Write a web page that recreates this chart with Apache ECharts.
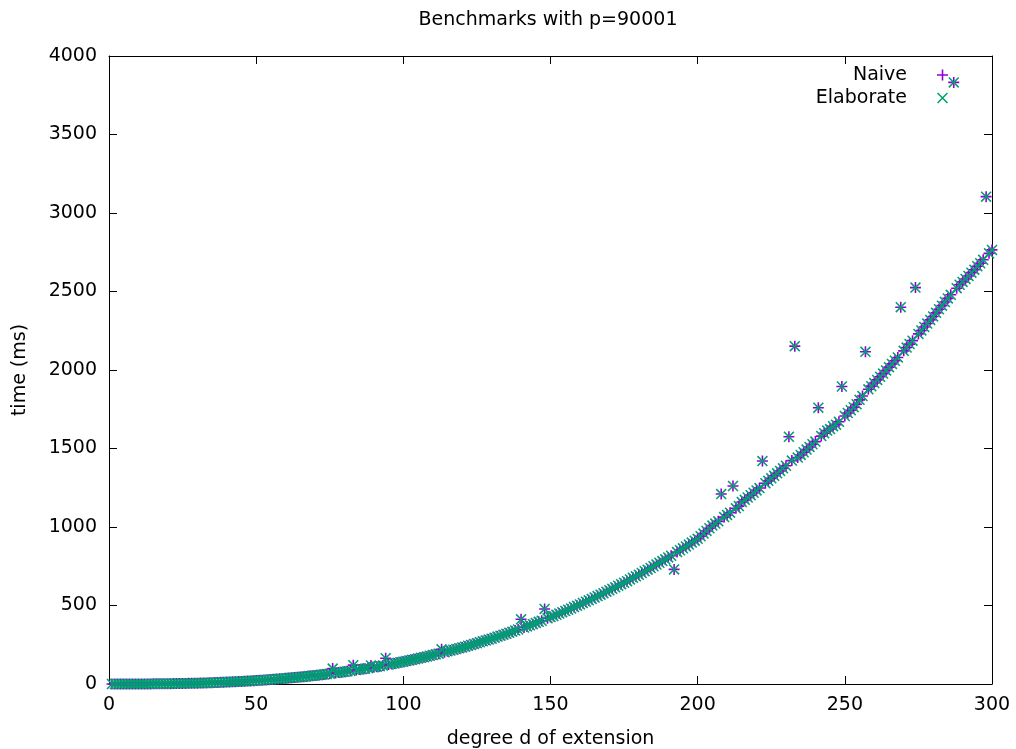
<!DOCTYPE html>
<html>
<head>
<meta charset="utf-8">
<script src="https://cdn.jsdelivr.net/npm/echarts@6/dist/echarts.min.js"></script>
<style>
  html, body { margin: 0; padding: 0; background: #fff; }
  #main { width: 1016px; height: 749px; }
</style>
</head>
<body>
<div id="main"></div>
<script>
// degree d = 1..300, one run per degree
const degrees = Array.from({ length: 300 }, (_, i) => i + 1);

// time (ms)
const naiveTimes = [
  0, 0, 0.01, 0.02, 0.04, 0.07, 0.11, 0.16, 0.21, 0.28,
  0.37, 0.47, 0.58, 0.71, 0.85, 1.01, 1.19, 1.39, 1.61, 1.85,
  2.11, 2.39, 2.69, 3.02, 3.37, 3.75, 4.15, 4.58, 5.04, 5.52,
  6.0, 6.6, 7.1, 7.7, 8.4, 9.0, 9.7, 10.5, 11.2, 12.0,
  12.8, 13.7, 14.6, 15.5, 16.5, 17.5, 18.6, 19.6, 20.8, 21.9,
  23.1, 24.4, 25.6, 27.0, 28.3, 29.7, 31.2, 32.7, 34.2, 35.9,
  37.5, 39.2, 41.0, 42.7, 44.6, 46.4, 48.4, 50.3, 52.4, 54.4,
  56.5, 58.7, 60.9, 63.2, 65.5, 98, 70.4, 72.9, 75.4, 78.0,
  80.7, 83.4, 120, 89.0, 91.9, 94.8, 97.8, 100.9, 118, 107.2,
  110.5, 113.8, 117.1, 164, 124.1, 127.6, 131.2, 134.9, 138.7, 142.4,
  146, 150, 154, 158, 162, 167, 171, 175, 180, 184,
  189, 193, 221, 203, 208, 213, 218, 223, 228, 233,
  238, 244, 249, 255, 260, 266, 272, 277, 283, 289,
  295, 302, 308, 314, 320, 327, 333, 340, 347, 412,
  360, 367, 374, 381, 389, 396, 403, 478, 418, 426,
  433, 441, 449, 457, 465, 473, 481, 490, 498, 507,
  516, 524, 533, 542, 551, 560, 569, 578, 588, 597,
  606, 616, 626, 636, 645, 655, 666, 676, 686, 696,
  707, 718, 728, 739, 750, 761, 772, 783, 794, 806,
  817, 730, 840, 852, 864, 876, 888, 901, 913, 925,
  941, 958, 975, 992, 1009, 1022, 1036, 1210, 1063, 1077,
  1091, 1261, 1119, 1133, 1159, 1173, 1188, 1203, 1218, 1233,
  1248, 1420, 1279, 1294, 1310, 1326, 1342, 1357, 1374, 1390,
  1575, 1423, 2152, 1442, 1459, 1476, 1493, 1510, 1527, 1544,
  1760, 1579, 1597, 1614, 1624, 1642, 1652, 1670, 1895, 1707,
  1726, 1744, 1763, 1782, 1810, 1834, 2116, 1877, 1897, 1917,
  1937, 1957, 1977, 1997, 2018, 2039, 2059, 2080, 2400, 2122,
  2143, 2165, 2187, 2525, 2230, 2252, 2274, 2296, 2319, 2341,
  2364, 2387, 2410, 2433, 2456, 2479, 3832, 2521, 2543, 2561,
  2580, 2599, 2620, 2639, 2661, 2680, 2702, 3104, 2743, 2765
];

// the elaborate method lands on the same times as far as the plot shows
const elaborateTimes = [
  0, 0, 0.01, 0.02, 0.04, 0.07, 0.11, 0.16, 0.21, 0.28,
  0.37, 0.47, 0.58, 0.71, 0.85, 1.01, 1.19, 1.39, 1.61, 1.85,
  2.11, 2.39, 2.69, 3.02, 3.37, 3.75, 4.15, 4.58, 5.04, 5.52,
  6.0, 6.6, 7.1, 7.7, 8.4, 9.0, 9.7, 10.5, 11.2, 12.0,
  12.8, 13.7, 14.6, 15.5, 16.5, 17.5, 18.6, 19.6, 20.8, 21.9,
  23.1, 24.4, 25.6, 27.0, 28.3, 29.7, 31.2, 32.7, 34.2, 35.9,
  37.5, 39.2, 41.0, 42.7, 44.6, 46.4, 48.4, 50.3, 52.4, 54.4,
  56.5, 58.7, 60.9, 63.2, 65.5, 98, 70.4, 72.9, 75.4, 78.0,
  80.7, 83.4, 120, 89.0, 91.9, 94.8, 97.8, 100.9, 118, 107.2,
  110.5, 113.8, 117.1, 164, 124.1, 127.6, 131.2, 134.9, 138.7, 142.4,
  146, 150, 154, 158, 162, 167, 171, 175, 180, 184,
  189, 193, 221, 203, 208, 213, 218, 223, 228, 233,
  238, 244, 249, 255, 260, 266, 272, 277, 283, 289,
  295, 302, 308, 314, 320, 327, 333, 340, 347, 412,
  360, 367, 374, 381, 389, 396, 403, 478, 418, 426,
  433, 441, 449, 457, 465, 473, 481, 490, 498, 507,
  516, 524, 533, 542, 551, 560, 569, 578, 588, 597,
  606, 616, 626, 636, 645, 655, 666, 676, 686, 696,
  707, 718, 728, 739, 750, 761, 772, 783, 794, 806,
  817, 730, 840, 852, 864, 876, 888, 901, 913, 925,
  941, 958, 975, 992, 1009, 1022, 1036, 1210, 1063, 1077,
  1091, 1261, 1119, 1133, 1159, 1173, 1188, 1203, 1218, 1233,
  1248, 1420, 1279, 1294, 1310, 1326, 1342, 1357, 1374, 1390,
  1575, 1423, 2152, 1442, 1459, 1476, 1493, 1510, 1527, 1544,
  1760, 1579, 1597, 1614, 1624, 1642, 1652, 1670, 1895, 1707,
  1726, 1744, 1763, 1782, 1810, 1834, 2116, 1877, 1897, 1917,
  1937, 1957, 1977, 1997, 2018, 2039, 2059, 2080, 2400, 2122,
  2143, 2165, 2187, 2525, 2230, 2252, 2274, 2296, 2319, 2341,
  2364, 2387, 2410, 2433, 2456, 2479, 3832, 2521, 2543, 2561,
  2580, 2599, 2620, 2639, 2661, 2680, 2702, 3104, 2743, 2765
];

const FONT = 'DejaVu Sans';
// gnuplot style point types: + and x
const plusPath = 'path://M4.7,0h1.6v11h-1.6zM0,4.7h11v1.6h-11z';
const crossPath = 'path://M0,1.1L1.1,0L11,9.9L9.9,11ZM9.9,0L11,1.1L1.1,11L0,9.9Z';

const baseAxis = {
    axisLine: { show: true, onZero: false, lineStyle: { color: '#000', width: 1 } },
    axisTick: { show: true, inside: true, length: 8, lineStyle: { color: '#000' } },
    splitLine: { show: false },
};

const option = {
    animation: false,
    title: {
        text: 'Benchmarks with p=90001',
        left: 548,
        top: 11,
        padding: 0,
        textAlign: 'center',
        textStyle: { fontFamily: FONT, fontSize: 19, fontWeight: 'normal', color: '#000' }
    },
    legend: [
        {
            data: ['Naive'], orient: 'vertical', align: 'right',
            right: 68, top: 65, padding: 0, itemWidth: 11, itemHeight: 11,
            textStyle: { fontFamily: FONT, fontSize: 19, color: '#000', padding: [0, 25, 0, 0], lineHeight: 20 }
        },
        {
            data: ['Elaborate'], orient: 'vertical', align: 'right',
            right: 68, top: 88, padding: 0, itemWidth: 11, itemHeight: 11,
            textStyle: { fontFamily: FONT, fontSize: 19, color: '#000', padding: [0, 25, 0, 0], lineHeight: 20 }
        }
    ],
    grid: { left: 109, right: 24, top: 56, bottom: 65, containLabel: false, outerBoundsMode: 'none' },
    xAxis: [
        Object.assign({}, baseAxis, {
            type: 'value', position: 'bottom', min: 0, max: 300, interval: 50,
            name: 'degree d of extension', nameLocation: 'middle', nameGap: 46,
            nameTextStyle: { fontFamily: FONT, fontSize: 19, color: '#000' },
            axisLabel: { fontFamily: FONT, fontSize: 19, color: '#000', margin: 12, formatter: v => String(v) }
        }),
        Object.assign({}, baseAxis, {
            type: 'value', position: 'top', min: 0, max: 300, interval: 50,
            axisLabel: { show: false }
        })
    ],
    yAxis: [
        Object.assign({}, baseAxis, {
            type: 'value', position: 'left', min: 0, max: 4000, interval: 500,
            name: 'time (ms)', nameLocation: 'middle', nameGap: 79,
            nameTextStyle: { fontFamily: FONT, fontSize: 19, color: '#000' },
            axisLabel: { fontFamily: FONT, fontSize: 19, color: '#000', margin: 12, formatter: v => String(v) }
        }),
        Object.assign({}, baseAxis, {
            type: 'value', position: 'right', min: 0, max: 4000, interval: 500,
            axisLabel: { show: false }
        })
    ],
    series: [
        {
            name: 'Naive',
            type: 'scatter',
            symbol: plusPath,
            symbolSize: 11,
            itemStyle: { color: '#9400d3', opacity: 1 },
            silent: true,
            data: degrees.map((d, i) => [d, naiveTimes[i]])
        },
        {
            name: 'Elaborate',
            type: 'scatter',
            symbol: crossPath,
            symbolSize: 11,
            itemStyle: { color: '#009e73', opacity: 1 },
            silent: true,
            data: degrees.map((d, i) => [d, elaborateTimes[i]])
        }
    ]
};

const chart = echarts.init(document.getElementById('main'));
chart.setOption(option);
</script>
</body>
</html>
